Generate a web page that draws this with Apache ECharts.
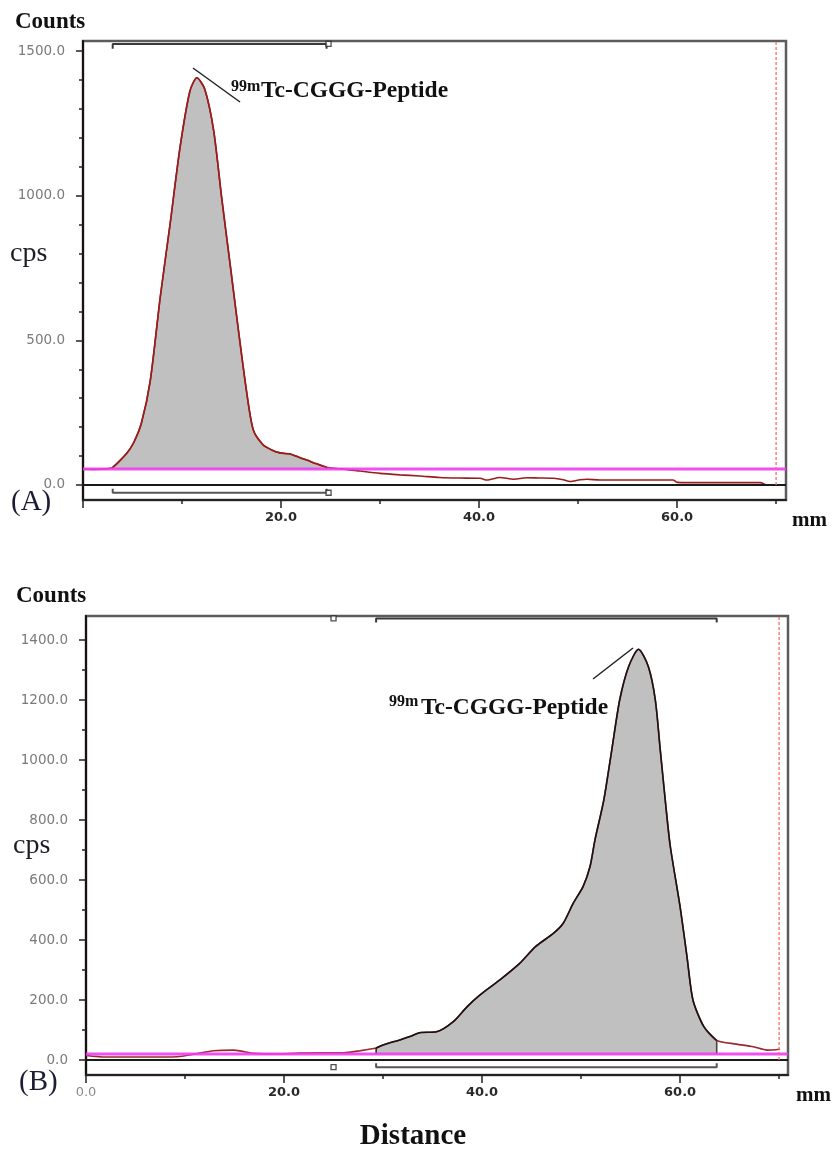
<!DOCTYPE html>
<html>
<head>
<meta charset="utf-8">
<script src="https://cdn.jsdelivr.net/npm/echarts@6/dist/echarts.min.js"></script>
<style>
html,body{margin:0;padding:0;background:#fff;}
#chart{width:835px;height:1151px;}
</style>
</head>
<body>
<div id="chart"></div>
<script>
// panel (A): radio-TLC scan, peak near origin
var distA = [0,1,2,3.0,4.4,5.1,5.9,6.8,7.8,8.8,9.8,10.8,11.5,12.3,13.2,14.0,14.85,15.7,16.5,17.2,18.2,19.0,19.9,20.9,21.8,22.6,23.6,24.6,25.6,26.6,28,30,32,34,36,38,40.1,40.8,42.1,43.5,44.8,46,47.5,48.5,49.2,50.2,50.9,52.2,55,57,59.6,60,63,66,68.4,69,70];
var cpsA  = [55,54,55,61,109,145,214,362,649,903,1167,1362,1408,1368,1224,994,765,534,328,190,138,122,111,107,96,86,73,61,57,54,48,40,35,31,26,24,23,17,26,20,25,24,23,18,12,18,20,17,17,17,17,9,8,8,8,1,0];
var roiA = [3.0, 24.6];
var baseA = 55;
var markA = 24.8;
var frontA = 70;
var yLabelsA = [0,500,1000,1500];
var yMinorA = [100,200,300,400,600,700,800,900,1100,1200,1300,1400];
var xLabelsA = [20,40,60];

// panel (B): peak near solvent front
var distB = [0,2,4.1,6,9.2,11,12.9,14.9,17,19.3,21.5,24,26,27.7,29.3,30,31.7,32.7,33.7,35.4,37.1,38.5,39.8,41.8,43.8,45.4,47.2,48.2,49.2,50.2,50.9,51.4,52.3,53.1,53.9,54.8,55.8,56.8,57.5,58,58.5,59,60,60.7,61.3,62.4,63.7,65.7,67.4,68.8,70.1];
var cpsB  = [15,10,10,10,11,20,31,33,22,20,23,24,24,31,40,50,67,78,91,94,128,178,217,267,322,378,422,456,522,578,644,733,867,1033,1200,1311,1369,1311,1200,1033,867,715,511,344,200,111,65,53,44,33,36];
var roiB = [29.3, 63.7];
var baseB = 20;
var markB = 25;
var frontB = 70;
var yLabelsB = [0,200,400,600,800,1000,1200,1400];
var yMinorB = [100,300,500,700,900,1100,1300];
var xLabelsB = [0,20,40,60];

var xMajor = [0,20,40,60];
var xMinor = [10,30,50,70];

var SERIF = '"Liberation Serif", "Times New Roman", serif';
var SANS = '"DejaVu Sans", sans-serif';

function pairs(xs, ys) {
    return xs.map(function (x, i) { return [x, ys[i]]; });
}
function inRoi(xs, ys, roi) {
    var out = [];
    xs.forEach(function (x, i) {
        if (x >= roi[0] - 1e-9 && x <= roi[1] + 1e-9) out.push([x, ys[i]]);
    });
    return out;
}
function valAt(xs, ys, x) {
    var i = xs.indexOf(x);
    return ys[i];
}

var panels = [
    {dist: distA, cps: cpsA, roi: roiA, base: baseA, mark: markA, front: frontA,
     yLabels: yLabelsA, yMinor: yMinorA, xLabels: xLabelsA,
     grid: {left: 83, top: 41, width: 703, height: 459}, yMin: -52, yMax: 1535, xMax: 71,
     lineColor: '#9a1d1d', roiColor: '#9a1d1d', topY: 1525, topTick: 1508, botY: -27, botTick: -13},
    {dist: distB, cps: cpsB, roi: roiB, base: baseB, mark: markB, front: frontB,
     yLabels: yLabelsB, yMinor: yMinorB, xLabels: xLabelsB,
     grid: {left: 86, top: 616, width: 702, height: 459}, yMin: -50, yMax: 1480, xMax: 70.9,
     lineColor: '#9a2a2a', roiColor: '#151515', topY: 1472, topTick: 1458, botY: -24, botTick: -11}
];

var grids = [], xAxes = [], yAxes = [], series = [];

panels.forEach(function (p, k) {
    grids.push(Object.assign({show: true, borderColor: '#5c5c5c', borderWidth: 2.5}, p.grid));
    // major x
    xAxes.push({
        gridIndex: k, type: 'value', min: 0, max: p.xMax, position: 'bottom',
        axisLine: {show: true, onZero: false, lineStyle: {color: '#222', width: 2}},
        axisTick: {show: true, length: 8, customValues: xMajor, lineStyle: {color: '#222', width: 1.5}},
        axisLabel: {
            customValues: p.xLabels, margin: 11,
            fontFamily: SANS, fontSize: 13, fontWeight: 'bold', color: '#2a2a2a',
            formatter: function (v) { return v === 0 ? '{z|0.0}' : v.toFixed(1); },
            rich: {z: {fontFamily: SANS, fontSize: 13, color: '#8a8a8a', fontWeight: 'normal'}}
        },
        splitLine: {show: false}
    });
    // minor x
    xAxes.push({
        gridIndex: k, type: 'value', min: 0, max: p.xMax, position: 'bottom',
        axisLine: {show: false, onZero: false},
        axisTick: {show: true, length: 4, customValues: xMinor, lineStyle: {color: '#222', width: 1.5}},
        axisLabel: {show: false}, splitLine: {show: false}
    });
    // major y
    yAxes.push({
        gridIndex: k, type: 'value', min: p.yMin, max: p.yMax, position: 'left',
        axisLine: {show: true, onZero: false, lineStyle: {color: '#1a1010', width: 2}},
        axisTick: {show: true, length: 7, customValues: p.yLabels, lineStyle: {color: '#222', width: 1.5}},
        axisLabel: {
            customValues: p.yLabels, margin: 18,
            fontFamily: SANS, fontSize: 13.5, color: '#7a7a7a',
            formatter: function (v) { return v.toFixed(1); }
        },
        splitLine: {show: false}
    });
    // minor y
    yAxes.push({
        gridIndex: k, type: 'value', min: p.yMin, max: p.yMax, position: 'left',
        axisLine: {show: false, onZero: false},
        axisTick: {show: true, length: 4, customValues: p.yMinor, lineStyle: {color: '#222', width: 1.5}},
        axisLabel: {show: false}, splitLine: {show: false}
    });

    var xi = k * 2, yi = k * 2;
    var roiData = inRoi(p.dist, p.cps, p.roi);
    var yStart = valAt(p.dist, p.cps, p.roi[0]);
    var yEnd = valAt(p.dist, p.cps, p.roi[1]);

    // grey peak area above the baseline
    series.push({
        type: 'line', xAxisIndex: xi, yAxisIndex: yi, data: roiData,
        smooth: 0.25, showSymbol: false, z: 2,
        lineStyle: {width: 0},
        areaStyle: {color: '#c0c0c0', opacity: 1, origin: p.base}
    });
    // full scan trace
    series.push({
        type: 'line', xAxisIndex: xi, yAxisIndex: yi, data: pairs(p.dist, p.cps),
        smooth: 0.25, showSymbol: false, z: 3,
        lineStyle: {color: p.lineColor, width: 1.6}
    });
    // outline of the region of interest
    series.push({
        type: 'line', xAxisIndex: xi, yAxisIndex: yi, data: roiData,
        smooth: 0.25, showSymbol: false, z: 4,
        lineStyle: {color: p.roiColor, width: 1.6}
    });
    // ROI edges
    series.push({
        type: 'line', xAxisIndex: xi, yAxisIndex: yi, showSymbol: false, z: 4,
        data: [[p.roi[0], p.base], [p.roi[0], yStart]],
        lineStyle: {color: p.roiColor, width: 1.4}
    });
    series.push({
        type: 'line', xAxisIndex: xi, yAxisIndex: yi, showSymbol: false, z: 4,
        data: [[p.roi[1], p.base], [p.roi[1], yEnd]],
        lineStyle: {color: k === 1 ? '#444' : p.roiColor, width: 1.6}
    });
    // background baseline (magenta)
    series.push({
        type: 'line', xAxisIndex: xi, yAxisIndex: yi, showSymbol: false, z: 5,
        data: [[0, p.base], [p.xMax, p.base]],
        lineStyle: {color: '#f03cf0', width: 3, opacity: 0.9}
    });
    // zero line
    series.push({
        type: 'line', xAxisIndex: xi, yAxisIndex: yi, showSymbol: false, z: 5,
        data: [[0, 0], [p.xMax, 0]],
        lineStyle: {color: '#1a1a1a', width: 2}
    });
    // solvent front
    series.push({
        type: 'line', xAxisIndex: xi, yAxisIndex: yi, showSymbol: false, z: 5,
        data: [[p.front, 0], [p.front, p.yMax]],
        lineStyle: {color: '#ff6a6a', width: 1.3, type: [3, 2]}
    });
    // ROI brackets top and bottom
    series.push({
        type: 'line', xAxisIndex: xi, yAxisIndex: yi, showSymbol: false, z: 5,
        data: [[p.roi[0], p.topTick], [p.roi[0], p.topY], [p.roi[1], p.topY], [p.roi[1], p.topTick]],
        lineStyle: {color: '#3a3a3a', width: 2}
    });
    series.push({
        type: 'line', xAxisIndex: xi, yAxisIndex: yi, showSymbol: false, z: 5,
        data: [[p.roi[0], p.botTick], [p.roi[0], p.botY], [p.roi[1], p.botY], [p.roi[1], p.botTick]],
        lineStyle: {color: '#555', width: 2}
    });
    // origin markers
    series.push({
        type: 'scatter', xAxisIndex: xi, yAxisIndex: yi, z: 6,
        data: [[p.mark, p.topY], [p.mark, p.botY]],
        symbol: 'rect', symbolSize: 5,
        itemStyle: {color: '#fff', borderColor: '#222', borderWidth: 1.3}
    });
});

function txt(x, y, s, font, opts) {
    return {
        type: 'text', x: x, y: y, z: 100,
        style: Object.assign({text: s, font: font, fill: '#111', textVerticalAlign: 'middle', textAlign: 'left'}, opts || {})
    };
}
function seg(x1, y1, x2, y2) {
    return {type: 'line', z: 100, shape: {x1: x1, y1: y1, x2: x2, y2: y2}, style: {stroke: '#222', lineWidth: 1.5}};
}

var graphics = [
    txt(15, 22, 'Counts', 'bold 23px ' + SERIF),
    txt(16, 596, 'Counts', 'bold 23px ' + SERIF),
    txt(10, 254, 'cps', '28px ' + SERIF, {fill: '#1e1a26'}),
    txt(13, 846, 'cps', '28px ' + SERIF, {fill: '#1e1a26'}),
    txt(11, 502, '(A)', '29px ' + SERIF, {fill: '#1c1c34'}),
    txt(19, 1082, '(B)', '29px ' + SERIF, {fill: '#1c1c34'}),
    txt(792, 521, 'mm', 'bold 21px ' + SERIF),
    txt(796, 1096, 'mm', 'bold 21px ' + SERIF),
    txt(413, 1137, 'Distance', 'bold 29px ' + SERIF, {textAlign: 'center'}),
    txt(231, 87, '99m', 'bold 16px ' + SERIF),
    txt(261, 91, 'Tc-CGGG-Peptide', 'bold 23.5px ' + SERIF),
    txt(389, 702, '99m', 'bold 16px ' + SERIF),
    txt(421, 707.5, 'Tc-CGGG-Peptide', 'bold 23.5px ' + SERIF),
    seg(193, 68, 240, 102),
    seg(593, 679, 633, 648)
];

var chart = echarts.init(document.getElementById('chart'));
var option = {
    animation: false,
    backgroundColor: '#fff',
    grid: grids,
    xAxis: xAxes,
    yAxis: yAxes,
    series: series,
    graphic: graphics
};
chart.setOption(option, true);
window.onresize = chart.resize;
</script>
</body>
</html>
